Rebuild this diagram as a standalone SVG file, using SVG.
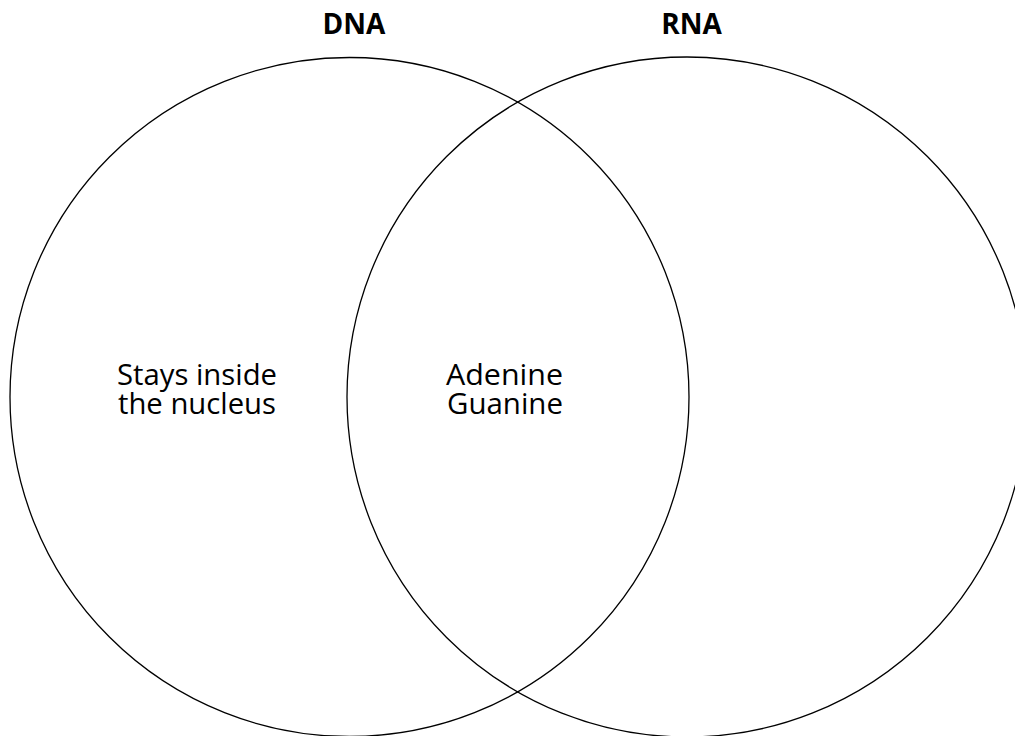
<svg xmlns="http://www.w3.org/2000/svg" width="1015" height="736" viewBox="0 0 1015 736">
<style>
.c{fill:none;stroke:#000;stroke-width:1.3}
.t{font-family:"Open Sans","Noto Sans",sans-serif;font-size:29px;fill:#000;text-anchor:middle}
.h{font-family:"Open Sans","Noto Sans",sans-serif;font-size:28px;font-weight:bold;fill:#000;text-anchor:middle}
</style>
<rect width="1015" height="736" fill="#fff"/>
<g id="dna">
<circle class="c" cx="349.5" cy="397" r="339.5"/>
<text class="h" x="354" y="34">DNA</text>
<text class="t" x="197" y="384.5" textLength="160" lengthAdjust="spacingAndGlyphs">Stays inside</text>
<text class="t" x="197" y="414" textLength="158" lengthAdjust="spacingAndGlyphs">the nucleus</text>
</g>
<g id="rna">
<circle class="c" cx="687" cy="397" r="340"/>
<text class="h" x="691.5" y="34">RNA</text>
</g>
<g id="both">
<text class="t" x="504.5" y="384.5" textLength="117" lengthAdjust="spacingAndGlyphs">Adenine</text>
<text class="t" x="505" y="414" textLength="116" lengthAdjust="spacingAndGlyphs">Guanine</text>
</g>
<g id="connectors"></g>
</svg>
